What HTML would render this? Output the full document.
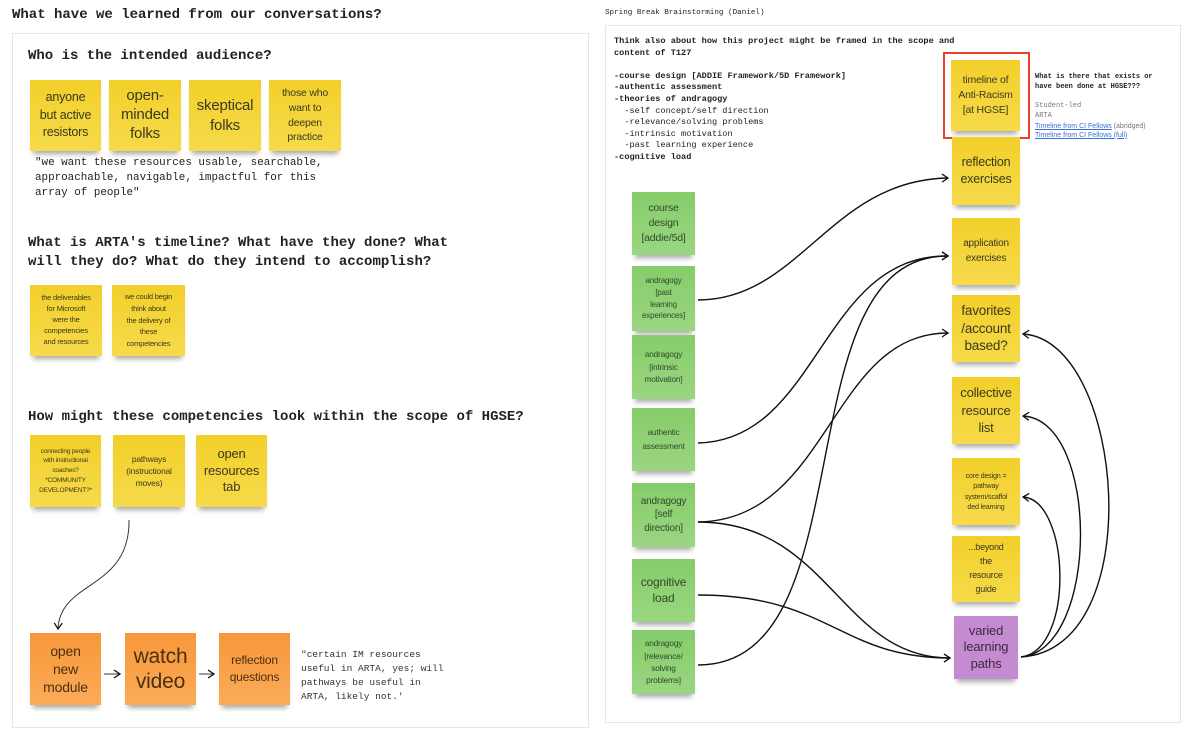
<!DOCTYPE html>
<html><head><meta charset="utf-8">
<style>
*{margin:0;padding:0;box-sizing:border-box}
body{width:1192px;height:737px;background:#fff;position:relative;overflow:hidden;font-family:"Liberation Sans",sans-serif;color:#222}
.abs{position:absolute}
.mono{font-family:"Liberation Mono",monospace}
.panel{position:absolute;border:1px solid #e6e6e6;background:#fff}
.n{position:absolute;display:flex;align-items:center;justify-content:center;text-align:center;color:#3a3a20;line-height:1.2;box-shadow:0 6px 5px -3px rgba(0,0,0,.35);padding:1px;white-space:nowrap;letter-spacing:-0.2px}
.y{background:linear-gradient(#f2cf2a,#f6da4a)}
.g{background:linear-gradient(#86cc6a,#9bd682);color:#2f4a2a}
.o{background:linear-gradient(#f7973a,#fbab58);color:#4a3010}
.p{background:#c48bd0;color:#3b2a40}
h2{position:absolute;font-family:"Liberation Mono",monospace;font-size:14px;font-weight:bold;color:#222;line-height:20px}
</style></head><body>
<div class="abs mono" style="left:12px;top:7px;font-size:14px;font-weight:bold">What have we learned from our conversations?</div>
<div class="panel" style="left:12px;top:33px;width:577px;height:695px"></div>
<h2 style="left:28px;top:46px">Who is the intended audience?</h2>
<div class="n y" style="left:30px;top:80px;width:71px;height:71px;font-size:12.5px;line-height:1.4">anyone<br>but active<br>resistors</div>
<div class="n y" style="left:109px;top:80px;width:72px;height:71px;font-size:15px;line-height:1.25">open-<br>minded<br>folks</div>
<div class="n y" style="left:189px;top:80px;width:72px;height:71px;font-size:15px;line-height:1.3">skeptical<br>folks</div>
<div class="n y" style="left:269px;top:80px;width:72px;height:71px;font-size:10.5px;line-height:1.4">those who<br>want to<br>deepen<br>practice</div>
<div class="abs mono" style="left:35px;top:156px;font-size:10.9px;line-height:15px;white-space:pre">"we want these resources usable, searchable,
approachable, navigable, impactful for this
array of people"</div>
<h2 style="left:28px;top:234px;line-height:19px">What is ARTA's timeline? What have they done? What<br>will they do? What do they intend to accomplish?</h2>
<div class="n y" style="left:30px;top:285px;width:72px;height:71px;font-size:7.5px;line-height:1.45">the deliverables<br>for Microsoft<br>were the<br>competencies<br>and resources</div>
<div class="n y" style="left:112px;top:285px;width:73px;height:71px;font-size:7.5px;line-height:1.55">we could begin<br>think about<br>the delivery of<br>these<br>competencies</div>
<h2 style="left:28px;top:407px">How might these competencies look within the scope of HGSE?</h2>
<div class="n y" style="left:30px;top:435px;width:71px;height:72px;font-size:6.5px;line-height:1.5">connecting people<br>with instructional<br>coaches?<br>*COMMUNITY<br>DEVELOPMENT?*</div>
<div class="n y" style="left:113px;top:435px;width:72px;height:72px;font-size:8.5px;line-height:1.45">pathways<br>(instructional<br>moves)</div>
<div class="n y" style="left:196px;top:435px;width:71px;height:72px;font-size:13px;line-height:1.3">open<br>resources<br>tab</div>
<div class="n o" style="left:30px;top:633px;width:71px;height:72px;font-size:14px;line-height:1.3">open<br>new<br>module</div>
<div class="n o" style="left:125px;top:633px;width:71px;height:72px;font-size:21px;line-height:1.2">watch<br>video</div>
<div class="n o" style="left:219px;top:633px;width:71px;height:72px;font-size:12px;line-height:1.45">reflection<br>questions</div>
<div class="abs mono" style="left:301px;top:648px;font-size:9.5px;line-height:14px;white-space:pre;color:#333">"certain IM resources
useful in ARTA, yes; will
pathways be useful in
ARTA, likely not.'</div>

<div class="abs mono" style="left:605px;top:9px;font-size:7.6px">Spring Break Brainstorming (Daniel)</div>
<div class="panel" style="left:605px;top:25px;width:576px;height:698px"></div>
<div class="abs mono" style="left:614px;top:36px;font-size:8.6px;line-height:11.6px;white-space:pre;font-weight:bold;color:#222">Think also about how this project might be framed in the scope and
content of T127

-course design [ADDIE Framework/5D Framework]
-authentic assessment
-theories of andragogy
<span style="font-weight:normal">  -self concept/self direction
  -relevance/solving problems
  -intrinsic motivation
  -past learning experience</span>
-cognitive load</div>
<div class="abs mono" style="left:1035px;top:73px;font-size:7px;line-height:9.5px;font-weight:bold;white-space:pre">What is there that exists or
have been done at HGSE???</div>
<div class="abs" style="left:1035px;top:101px;font-size:7px;line-height:9.3px;color:#777"><span class="mono">Student-led</span><br><span class="mono">ARTA</span><br><span style="color:#3b6fd6;text-decoration:underline">Timeline from CI Fellows</span> (abridged)<br><span style="color:#3b6fd6;text-decoration:underline">Timeline from CI Fellows (full)</span></div>
<div class="abs" style="left:943px;top:52px;width:87px;height:87px;border:2px solid #e9412a"></div>
<div class="n y" style="left:951px;top:60px;width:69px;height:71px;font-size:10.5px;line-height:1.45">timeline of<br>Anti-Racism<br>[at HGSE]</div>
<div class="n y" style="left:952px;top:137px;width:68px;height:68px;font-size:12.5px;line-height:1.4">reflection<br>exercises</div>
<div class="n y" style="left:952px;top:218px;width:68px;height:67px;font-size:10px;line-height:1.45">application<br>exercises</div>
<div class="n y" style="left:952px;top:295px;width:68px;height:67px;font-size:13.5px;line-height:1.3">favorites<br>/account<br>based?</div>
<div class="n y" style="left:952px;top:377px;width:68px;height:67px;font-size:13px;line-height:1.35">collective<br>resource<br>list</div>
<div class="n y" style="left:952px;top:458px;width:68px;height:67px;font-size:7.2px;line-height:1.45">core design =<br>pathway<br>system/scaffol<br>ded learning</div>
<div class="n y" style="left:952px;top:536px;width:68px;height:66px;font-size:9px;line-height:1.55">...beyond<br>the<br>resource<br>guide</div>
<div class="n p" style="left:954px;top:616px;width:64px;height:63px;font-size:13px;line-height:1.25">varied<br>learning<br>paths</div>

<div class="n g" style="left:632px;top:192px;width:63px;height:63px;font-size:10.5px;line-height:1.4">course<br>design<br>[addie/5d]</div>
<div class="n g" style="left:632px;top:266px;width:63px;height:65px;font-size:8px;line-height:1.45">andragogy<br>[past<br>learning<br>experiences]</div>
<div class="n g" style="left:632px;top:335px;width:63px;height:64px;font-size:8.3px;line-height:1.5">andragogy<br>[intrinsic<br>motivation]</div>
<div class="n g" style="left:632px;top:408px;width:63px;height:63px;font-size:8.3px;line-height:1.6">authentic<br>assessment</div>
<div class="n g" style="left:632px;top:483px;width:63px;height:64px;font-size:10px;line-height:1.35">andragogy<br>[self<br>direction]</div>
<div class="n g" style="left:632px;top:559px;width:63px;height:63px;font-size:12px;line-height:1.3">cognitive<br>load</div>
<div class="n g" style="left:632px;top:630px;width:63px;height:64px;font-size:8.3px;line-height:1.5">andragogy<br>[relevance/<br>solving<br>problems]</div>

<svg class="abs" style="left:0;top:0" width="1192" height="737" viewBox="0 0 1192 737">
<defs><marker id="a" markerWidth="10" markerHeight="10" refX="8" refY="5" orient="auto" markerUnits="userSpaceOnUse"><path d="M2,1 L8,5 L2,9" fill="none" stroke="#111" stroke-width="1.3"/></marker></defs>
<g fill="none" stroke="#111" stroke-width="1.4" marker-end="url(#a)">
<path d="M698,300 C800,300 830,180 948,178"/>
<path d="M698,443 C820,440 820,255 948,256"/>
<path d="M698,522 C830,520 830,333 948,333"/>
<path d="M698,522 C830,522 840,658 950,658"/>
<path d="M698,595 C830,595 840,658 950,658"/>
<path d="M698,665 C870,665 780,255 948,256"/>
<path d="M1021,657 C1150,650 1125,340 1023,334"/>
<path d="M1021,657 C1100,650 1100,420 1023,416"/>
<path d="M1021,657 C1075,650 1070,500 1023,497"/>
</g>
<g fill="none" stroke="#333" stroke-width="1" marker-end="url(#a)">
<path d="M129,520 C130,590 60,580 58,629"/>
<path d="M104,674 L120,674"/>
<path d="M199,674 L214,674"/>
</g>
</svg>
</body></html>
